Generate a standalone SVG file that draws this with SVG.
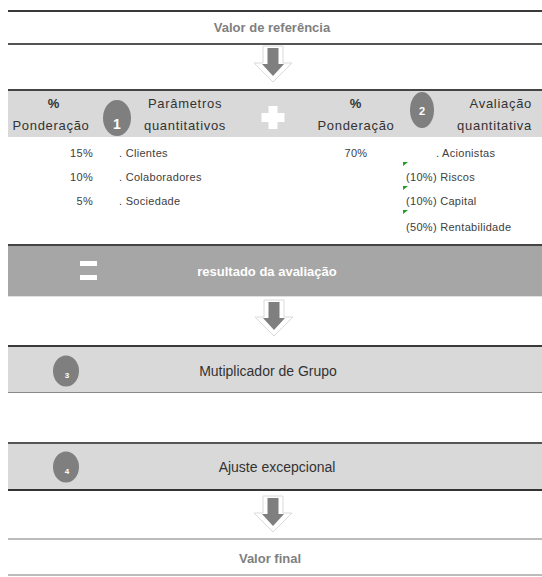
<svg xmlns="http://www.w3.org/2000/svg" xmlns:xlink="http://www.w3.org/1999/xlink" width="542" height="577" viewBox="0 0 542 577">
<style>
.t{font-family:"Liberation Sans",Arial,sans-serif;fill:#404040}
.gr{fill:#7f7f7f;font-weight:bold}
.h{font-size:13px;letter-spacing:0.7px;fill:#333}
.r{font-size:11px;letter-spacing:0.3px}
.m{font-size:13px}
.b{font-size:14px;fill:#333}
.num{font-family:"Liberation Sans",Arial,sans-serif;fill:#fff;font-weight:bold;text-anchor:middle}
.dk{stroke:#3a3a3a;stroke-width:2}
.lt{stroke:#a6a6a6;stroke-width:1.5}
</style>
<defs>
<g id="arr">
<polygon points="-10,0 10,0 10,17 19,17 0,36 -19,17 -10,17" fill="#fff" stroke="#dadada" stroke-width="1"/>
<polygon points="-5.5,2 5.5,2 5.5,18 11,18 0,30 -11,18 -5.5,18" fill="#7f7f7f"/>
</g>
<polygon id="tri" points="0,0 5,0 0,4" fill="#1e9e1e"/>
</defs>

<g id="valor-referencia">
<line x1="8" y1="11" x2="542" y2="11" class="dk"/>
<line x1="8" y1="44" x2="542" y2="44" stroke="#555" stroke-width="2"/>
<text x="272" y="32" class="t gr m" text-anchor="middle">Valor de referência</text>
</g>

<g id="connectors">
<use xlink:href="#arr" x="273" y="46"/>
<use xlink:href="#arr" x="274" y="300"/>
<use xlink:href="#arr" x="273" y="496"/>
</g>

<g id="parametros">
<rect x="8" y="91" width="534" height="46" fill="#d9d9d9"/>
<line x1="8" y1="90" x2="542" y2="90" stroke="#444" stroke-width="2"/>
<text x="54" y="108" class="t h" text-anchor="middle" font-weight="bold">%</text>
<text x="51" y="130" class="t h" text-anchor="middle">Ponderação</text>
<ellipse cx="117" cy="118" rx="14" ry="18" fill="#7f7f7f"/>
<text x="117" y="129" class="num" font-size="14">1</text>
<text x="185" y="108" class="t h" text-anchor="middle">Parâmetros</text>
<text x="185" y="130" class="t h" text-anchor="middle">quantitativos</text>
<path d="M268.5 106 h9 v7 h7 v9 h-7 v7 h-9 v-7 h-7 v-9 h7 z" fill="#fff"/>
<text x="356" y="108" class="t h" text-anchor="middle" font-weight="bold">%</text>
<text x="356" y="130" class="t h" text-anchor="middle">Ponderação</text>
<ellipse cx="422" cy="110" rx="12" ry="18" fill="#7f7f7f"/>
<text x="422" y="115" class="num" font-size="11">2</text>
<text x="532" y="108" class="t h" text-anchor="end">Avaliação</text>
<text x="532" y="130" class="t h" text-anchor="end">quantitativa</text>
</g>

<g id="linhas">
<text x="93" y="157" class="t r" text-anchor="end">15%</text>
<text x="93" y="181" class="t r" text-anchor="end">10%</text>
<text x="93" y="205" class="t r" text-anchor="end">5%</text>
<text x="119" y="157" class="t r">. Clientes</text>
<text x="119" y="181" class="t r">. Colaboradores</text>
<text x="119" y="205" class="t r">. Sociedade</text>
<text x="356" y="157" class="t r" text-anchor="middle">70%</text>
<text x="436" y="157" class="t r">. Acionistas</text>
<use xlink:href="#tri" x="403" y="162"/>
<use xlink:href="#tri" x="403" y="186"/>
<use xlink:href="#tri" x="403" y="210"/>
<text x="406" y="181" class="t r">(10%) Riscos</text>
<text x="406" y="205" class="t r">(10%) Capital</text>
<text x="406" y="231" class="t r">(50%) Rentabilidade</text>
</g>

<g id="resultado">
<rect x="8" y="246" width="534" height="50" fill="#a6a6a6"/>
<line x1="8" y1="245" x2="542" y2="245" stroke="#444" stroke-width="2"/>
<line x1="8" y1="296.5" x2="542" y2="296.5" stroke="#e0e0e0" stroke-width="1"/>
<rect x="80" y="261" width="17" height="5" fill="#fff"/>
<rect x="80" y="275" width="17" height="5" fill="#fff"/>
<text x="267" y="276" class="t m" text-anchor="middle" style="fill:#fff" font-weight="bold">resultado da avaliação</text>
</g>

<g id="multiplicador">
<rect x="8" y="347" width="534" height="45" fill="#d9d9d9"/>
<line x1="8" y1="346" x2="542" y2="346" stroke="#3a3a3a" stroke-width="2"/>
<line x1="8" y1="392.5" x2="542" y2="392.5" stroke="#8a8a8a" stroke-width="1"/>
<ellipse cx="66" cy="371" rx="13" ry="15.5" fill="#7f7f7f"/>
<text x="67" y="378" class="num" font-size="8">3</text>
<text x="268" y="376" class="t b" text-anchor="middle">Mutiplicador de Grupo</text>
</g>

<g id="ajuste">
<rect x="8" y="444" width="534" height="45" fill="#d9d9d9"/>
<line x1="8" y1="443" x2="542" y2="443" stroke="#555" stroke-width="2"/>
<line x1="8" y1="490" x2="542" y2="490" stroke="#333" stroke-width="2"/>
<ellipse cx="66" cy="467" rx="13" ry="15.5" fill="#7f7f7f"/>
<text x="67" y="474" class="num" font-size="8">4</text>
<text x="277" y="472" class="t b" text-anchor="middle">Ajuste excepcional</text>
</g>

<g id="valor-final">
<line x1="8" y1="539" x2="542" y2="539" class="lt"/>
<line x1="8" y1="575" x2="542" y2="575" class="lt"/>
<text x="270" y="563" class="t gr m" text-anchor="middle">Valor final</text>
</g>
</svg>
